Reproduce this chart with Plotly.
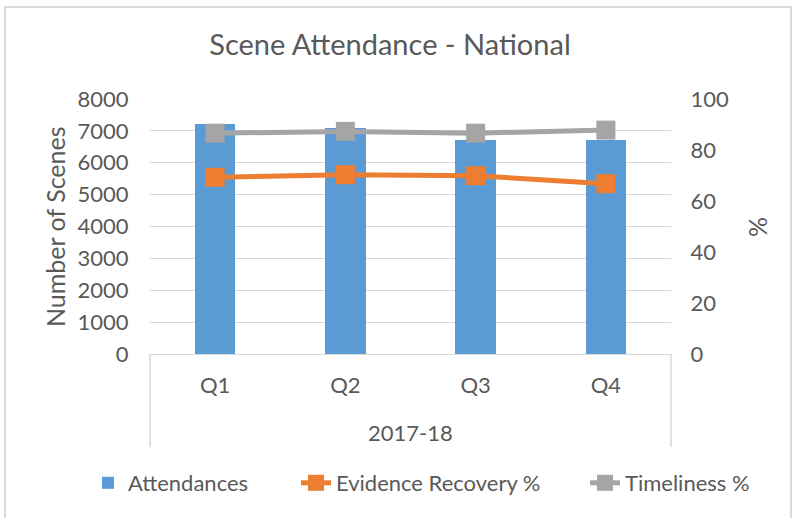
import plotly.graph_objects as go

quarters = ["Q1", "Q2", "Q3", "Q4"]
period = "2017-18"
attendances = [7220, 7080, 6710, 6715]
evidence_recovery = [69.3, 70.3, 69.9, 66.8]
timeliness = [86.6, 87.3, 86.6, 87.8]

FONT = "Lato"
TXT = "#595959"
GRID = "#d9d9d9"

fig = go.Figure()
fig.add_trace(go.Bar(x=quarters, y=attendances, name="Attendances", legend="legend",
                     marker=dict(color="#5B9BD5", line=dict(width=0)), width=0.31, yaxis="y"))
fig.add_trace(go.Scatter(x=quarters, y=evidence_recovery, name="Evidence Recovery %",
                         mode="lines+markers", yaxis="y2", legend="legend2",
                         line=dict(color="#ED7D31", width=5),
                         marker=dict(symbol="square", size=19, color="#ED7D31")))
fig.add_trace(go.Scatter(x=quarters, y=timeliness, name="Timeliness %",
                         mode="lines+markers", yaxis="y2", legend="legend3",
                         line=dict(color="#A5A5A5", width=5),
                         marker=dict(symbol="square", size=19, color="#A5A5A5")))

# geometry: plot area 150..671 x, 99..354 y
L, R, T, B = 150, 671, 99, 354
W, H = R - L, B - T

def px(x):
    return (x - L) / W

def py(y):
    return (B - y) / H

def leg(x_left):
    return dict(orientation="h", xref="container", yref="container",
                x=x_left / 796, xanchor="left", y=(518 - 483) / 518, yanchor="middle",
                font=dict(size=22, color=TXT, family=FONT), bgcolor="rgba(0,0,0,0)")

fig.update_layout(
    width=796, height=518,
    margin=dict(l=L, r=796 - R, t=T, b=518 - B, autoexpand=False),
    paper_bgcolor="white", plot_bgcolor="white",
    font=dict(family=FONT, size=22, color=TXT),
    showlegend=True,
    bargap=0,
    title=dict(text="Scene Attendance - National", x=390 / 796, xanchor="center",
               y=1 - 45 / 518, yanchor="middle", font=dict(size=29, color=TXT, family=FONT)),
    xaxis=dict(type="category", range=[-0.5, 3.5], showline=True, linecolor=GRID, linewidth=1,
               showgrid=False, ticks="outside", ticklen=12, tickcolor="rgba(0,0,0,0)",
               tickfont=dict(size=22, color=TXT), automargin=False),
    yaxis=dict(range=[0, 8000], dtick=1000, showgrid=True, gridcolor=GRID, gridwidth=1,
               zeroline=False, showline=False, ticks="outside", ticklen=16,
               tickcolor="rgba(0,0,0,0)", tickfont=dict(size=22, color=TXT), automargin=False),
    yaxis2=dict(range=[0, 100], dtick=20, overlaying="y", side="right", showgrid=False,
                zeroline=False, showline=False, ticks="outside", ticklen=14,
                tickcolor="rgba(0,0,0,0)", tickfont=dict(size=22, color=TXT), automargin=False),
    legend=leg(88),
    legend2=leg(296),
    legend3=leg(585),
)

fig.add_annotation(text="Number of Scenes", xref="paper", yref="paper", x=px(55), y=py(227),
                   textangle=-90, showarrow=False, font=dict(size=25, color=TXT, family=FONT),
                   xanchor="center", yanchor="middle")
fig.add_annotation(text="%", xref="paper", yref="paper", x=px(757), y=py(227),
                   textangle=-90, showarrow=False, font=dict(size=25, color=TXT, family=FONT),
                   xanchor="center", yanchor="middle")
fig.add_annotation(text=period, xref="paper", yref="paper", x=0.5, y=py(432),
                   showarrow=False, font=dict(size=22, color=TXT, family=FONT),
                   xanchor="center", yanchor="middle")

for xx in (0, 1):
    fig.add_shape(type="line", xref="paper", yref="paper", x0=xx, x1=xx, y0=0, y1=py(447),
                  line=dict(color=GRID, width=1.5))

fig.add_shape(type="rect", xref="paper", yref="paper", x0=px(5), x1=px(791), y0=py(540), y1=py(7),
              line=dict(color=GRID, width=2), layer="below")

fig.write_html("out.html", config={"displayModeBar": False},
               post_script="document.body.style.margin='0';document.body.style.overflow='hidden';")
